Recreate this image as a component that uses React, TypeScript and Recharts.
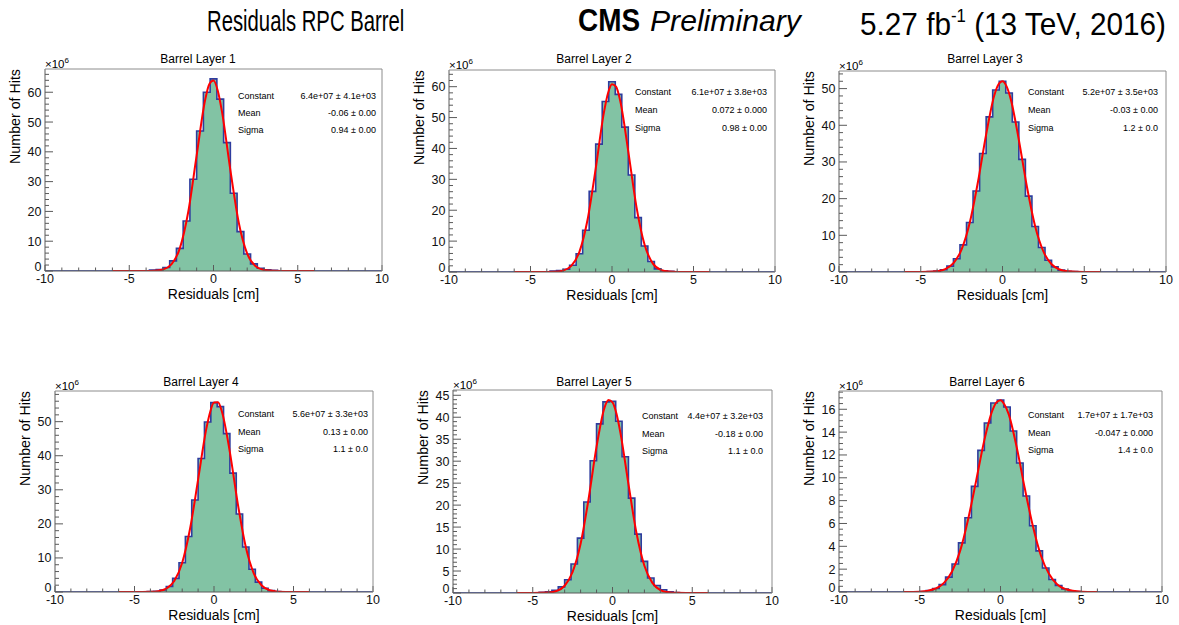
import React from 'react';
import { ComposedChart, Area, Line, XAxis, YAxis } from 'recharts';

const FONT = '"Liberation Sans", Arial, Helvetica, sans-serif';
const W = 1179;
const H = 625;

// ---------- data (values in units of 10^6 hits) ----------
const BIN_CENTERS = [-4.8, -4.4, -4.0, -3.6, -3.2, -2.8, -2.4, -2.0, -1.6, -1.2, -0.8, -0.4, 0.0, 0.4, 0.8, 1.2, 1.6, 2.0, 2.4, 2.8, 3.2, 3.6, 4.0, 4.4, 4.8];
const BIN_WIDTH = 0.4;

const COUNTS_L1 = [0, 0.05, 0.1, 0.3, 0.5, 1.2, 3.4, 7.6, 16.8, 30.8, 47.0, 60.0, 64.5, 57.7, 43.1, 26.1, 13.2, 5.7, 2.4, 0.9, 0.4, 0.2, 0.1, 0.05, 0];
const COUNTS_L2 = [0, 0.05, 0.1, 0.3, 0.5, 0.9, 2.2, 5.9, 13.5, 26.1, 41.4, 55.2, 61.6, 57.5, 46.9, 31.4, 17.6, 8.4, 3.4, 1.0, 0.4, 0.2, 0.1, 0.05, 0];
const COUNTS_L3 = [0.05, 0.1, 0.25, 0.6, 1.6, 3.6, 7.4, 13.5, 22.1, 32.3, 42.3, 49.6, 52.0, 48.8, 40.9, 30.7, 20.7, 12.4, 6.7, 3.2, 1.4, 0.5, 0.2, 0.1, 0.05];
const COUNTS_L4 = [0, 0.05, 0.1, 0.2, 0.6, 1.6, 4.0, 8.6, 16.3, 27.0, 39.2, 49.9, 55.6, 54.4, 46.5, 34.9, 22.9, 13.2, 6.7, 2.9, 1.1, 0.4, 0.15, 0.05, 0];
const COUNTS_L5 = [0.05, 0.15, 0.3, 0.6, 1.4, 3.0, 6.6, 12.5, 20.7, 30.1, 38.5, 43.5, 43.6, 39.1, 31.0, 21.6, 13.4, 7.2, 3.4, 1.7, 0.75, 0.3, 0.12, 0.05, 0];
const COUNTS_L6 = [0.05, 0.13, 0.31, 0.65, 1.3, 2.45, 4.3, 6.5, 9.25, 12.4, 14.8, 16.55, 16.8, 16.2, 14.1, 11.3, 8.4, 5.8, 3.6, 2.1, 1.1, 0.57, 0.26, 0.11, 0.04];

const FIT_X = [-6, -5, -4, -3.5, -3, -2.5, -2, -1.5, -1, -0.5, -0.25, 0, 0.25, 0.5, 1, 1.5, 2, 2.5, 3, 3.5, 4, 5, 6];
const FIT_L1 = [0, 0, 0.01, 0.08, 0.48, 2.2, 7.6, 19.8, 38.8, 57.3, 62.7, 63.9, 60.6, 53.6, 33.9, 16.2, 5.8, 1.6, 0.32, 0.05, 0.01, 0, 0];
const FIT_L2 = [0, 0, 0.02, 0.08, 0.45, 1.96, 6.5, 16.9, 33.5, 51.5, 57.8, 60.8, 60.0, 55.5, 39.0, 21.1, 8.8, 2.8, 0.7, 0.13, 0.02, 0, 0];
const FIT_L3 = [0, 0.01, 0.22, 0.8, 2.4, 6.2, 13.5, 24.6, 37.5, 48.2, 51.1, 52.0, 50.6, 47.2, 36.0, 23.1, 12.4, 5.6, 2.1, 0.69, 0.19, 0.01, 0];
const FIT_L4 = [0, 0, 0.05, 0.24, 0.98, 3.2, 8.6, 18.7, 33.0, 47.5, 52.7, 55.6, 55.7, 52.9, 41.0, 25.8, 13.2, 5.5, 1.9, 0.5, 0.11, 0, 0];
const FIT_L5 = [0, 0, 0.1, 0.46, 1.65, 4.8, 11.2, 21.4, 33.3, 42.2, 43.9, 43.4, 40.8, 36.4, 24.8, 13.7, 6.2, 2.3, 0.67, 0.16, 0.03, 0, 0];
const FIT_L6 = [0, 0.03, 0.31, 0.8, 1.8, 3.6, 6.4, 9.8, 13.3, 15.9, 16.6, 16.8, 16.4, 15.6, 12.7, 9.1, 5.8, 3.2, 1.6, 0.68, 0.26, 0.03, 0];

const LAYER_TITLES = ['Barrel Layer 1', 'Barrel Layer 2', 'Barrel Layer 3', 'Barrel Layer 4', 'Barrel Layer 5', 'Barrel Layer 6'];
const STAT_CONSTANT = ['6.4e+07 \u00b1 4.1e+03', '6.1e+07 \u00b1 3.8e+03', '5.2e+07 \u00b1 3.5e+03', '5.6e+07 \u00b1 3.3e+03', '4.4e+07 \u00b1 3.2e+03', '1.7e+07 \u00b1 1.7e+03'];
const STAT_MEAN = ['-0.06 \u00b1 0.00', '0.072 \u00b1 0.000', '-0.03 \u00b1 0.00', '0.13 \u00b1 0.00', '-0.18 \u00b1 0.00', '-0.047 \u00b1 0.000'];
const STAT_SIGMA = ['0.94 \u00b1 0.00', '0.98 \u00b1 0.00', '1.2 \u00b1 0.0', '1.1 \u00b1 0.0', '1.1 \u00b1 0.0', '1.4 \u00b1 0.0'];

const X_DOMAIN = [-10, 10];
const X_LABELS = [-10, -5, 0, 5, 10];
const X_MINOR_STEP = 1;
const Y_MAX = [67.8, 65.4, 54.8, 59.0, 46.2, 17.6];
const Y_LABEL_STEP = [10, 10, 10, 10, 5, 2];
const Y_MINOR_STEP = [2, 2, 2, 2, 1, 0.5];

const COUNTS = [COUNTS_L1, COUNTS_L2, COUNTS_L3, COUNTS_L4, COUNTS_L5, COUNTS_L6];
const FITS = [FIT_L1, FIT_L2, FIT_L3, FIT_L4, FIT_L5, FIT_L6];

// ---------- layout (page coordinates) ----------
const LAYOUT = [
  { L: 45, R: 382, T: 69, B: 271, titleX: 198, titleY: 63, statX: 238, statR: 376, statY: 99, statDy: 17 },
  { L: 449, R: 775, T: 70, B: 272, titleX: 594, titleY: 63, statX: 635, statR: 767, statY: 94.5, statDy: 18 },
  { L: 839, R: 1166, T: 71, B: 272, titleX: 985, titleY: 63, statX: 1028, statR: 1158, statY: 94.5, statDy: 18 },
  { L: 55, R: 373, T: 391, B: 592, titleX: 201, titleY: 386, statX: 238, statR: 368, statY: 417, statDy: 17.5 },
  { L: 453, R: 772, T: 390, B: 593, titleX: 594, titleY: 386, statX: 642, statR: 763, statY: 419, statDy: 17.5 },
  { L: 839, R: 1162, T: 391, B: 592, titleX: 987, titleY: 386, statX: 1028, statR: 1153, statY: 418, statDy: 17.5 },
];

const Y_AXIS_W = 30;
const X_AXIS_H = 20;
const X_LABEL_OFFSET = 12;
const X_TITLE_OFFSET = 28;

const AXIS_COLOR = '#5a5a5a';
const FRAME_COLOR = '#8c8c8c';
const FILL_COLOR = '#82c3a4';
const HIST_LINE = '#2e3c9e';
const FIT_COLOR = '#ff0000';
const TICK_FONT = 12.5;

const isMultiple = (v: number, step: number) => Math.abs(v / step - Math.round(v / step)) < 1e-6;

function buildTicks(min: number, max: number, step: number) {
  const out: number[] = [];
  const n = Math.floor((max - min) / step + 1e-6);
  for (let i = 0; i <= n; i++) out.push(Number((min + i * step).toFixed(4)));
  return out;
}

function histTable(counts: number[]) {
  const pts: { x: number; h: number }[] = [{ x: X_DOMAIN[0], h: 0 }];
  BIN_CENTERS.forEach((c, i) => pts.push({ x: Number((c - BIN_WIDTH / 2).toFixed(4)), h: counts[i] }));
  pts.push({ x: Number((BIN_CENTERS[BIN_CENTERS.length - 1] + BIN_WIDTH / 2).toFixed(4)), h: 0 });
  pts.push({ x: X_DOMAIN[1], h: 0 });
  return pts;
}

function fitTable(fit: number[]) {
  return FIT_X.map((x, i) => ({ x, f: fit[i] }));
}

const XTick = (props: any) => {
  const { x, y, payload } = props;
  const v = payload.value as number;
  const major = X_LABELS.some((l) => Math.abs(l - v) < 1e-6);
  return (
    <g>
      <line x1={x} x2={x} y1={y} y2={y - (major ? 6 : 3.5)} stroke={AXIS_COLOR} strokeWidth={1} />
      {major && (
        <text x={x} y={y + X_LABEL_OFFSET} textAnchor="middle" fontSize={TICK_FONT} fontFamily={FONT} fill="#111">
          {String(v)}
        </text>
      )}
    </g>
  );
};

const makeYTick = (labelStep: number) => (props: any) => {
  const { x, y, payload } = props;
  const v = payload.value as number;
  const major = isMultiple(v, labelStep);
  const lift = Math.abs(v) < 1e-9 ? 4.5 : 0;
  return (
    <g>
      <line x1={x} x2={x + (major ? 8 : 4)} y1={y} y2={y} stroke={AXIS_COLOR} strokeWidth={1} />
      {major && (
        <text x={x - 3.5} y={y - lift} dy="0.36em" textAnchor="end" fontSize={TICK_FONT} fontFamily={FONT} fill="#111">
          {String(v)}
        </text>
      )}
    </g>
  );
};

const Panel = ({ i }: { i: number }) => {
  const lay = LAYOUT[i];
  const xTicks = buildTicks(X_DOMAIN[0], X_DOMAIN[1], X_MINOR_STEP);
  const yTicks = buildTicks(0, Y_MAX[i], Y_MINOR_STEP[i]);
  return (
    <div style={{ position: 'absolute', left: 0, top: 0, width: W, height: H }}>
      <ComposedChart
        width={W}
        height={H}
        margin={{ top: lay.T, left: lay.L - Y_AXIS_W, right: W - lay.R, bottom: H - lay.B - X_AXIS_H }}
      >
        <Area
          data={histTable(COUNTS[i])}
          dataKey="h"
          type="stepAfter"
          fill={FILL_COLOR}
          fillOpacity={1}
          stroke={HIST_LINE}
          strokeWidth={1.6}
          isAnimationActive={false}
          dot={false}
          activeDot={false}
        />
        <Line
          data={fitTable(FITS[i])}
          dataKey="f"
          type="monotone"
          stroke={FIT_COLOR}
          strokeWidth={2}
          dot={false}
          activeDot={false}
          isAnimationActive={false}
        />
        <XAxis
          type="number"
          dataKey="x"
          domain={X_DOMAIN}
          ticks={xTicks}
          interval={0}
          height={X_AXIS_H}
          tickSize={0}
          tickMargin={0}
          tickLine={false}
          axisLine={{ stroke: AXIS_COLOR }}
          tick={(p: any) => <XTick {...p} />}
          allowDataOverflow
        />
        <YAxis
          type="number"
          domain={[0, Y_MAX[i]]}
          ticks={yTicks}
          interval={0}
          width={Y_AXIS_W}
          tickSize={0}
          tickMargin={0}
          tickLine={false}
          axisLine={{ stroke: AXIS_COLOR }}
          tick={makeYTick(Y_LABEL_STEP[i])}
          allowDataOverflow
        />
      </ComposedChart>
    </div>
  );
};

const PanelText = ({ i }: { i: number }) => {
  const lay = LAYOUT[i];
  const cx = (lay.L + lay.R) / 2;
  return (
    <g fontFamily={FONT} fill="#000">
      <line x1={lay.L} x2={lay.R} y1={lay.T} y2={lay.T} stroke={FRAME_COLOR} strokeWidth={1} />
      <line x1={lay.R} x2={lay.R} y1={lay.T} y2={lay.B} stroke={FRAME_COLOR} strokeWidth={1} />
      <text x={lay.titleX} y={lay.titleY} textAnchor="middle" fontSize={12}>{LAYER_TITLES[i]}</text>
      <text x={lay.L} y={lay.T - 1.5} fontSize={11.5}>
        {'\u00d710'}
        <tspan dy={-5} fontSize={8}>6</tspan>
      </text>
      <g transform={`translate(${cx},${lay.B + X_TITLE_OFFSET}) scale(0.93,1)`}>
        <text x={0} y={0} textAnchor="middle" fontSize={15}>Residuals [cm]</text>
      </g>
      <g transform={`translate(${lay.L - 25.5},${lay.T}) rotate(-90) scale(0.95,1)`}>
        <text x={0} y={0} textAnchor="end" fontSize={15}>Number of Hits</text>
      </g>
      <g fontSize={9}>
        <text x={lay.statX} y={lay.statY}>Constant</text>
        <text x={lay.statX} y={lay.statY + lay.statDy}>Mean</text>
        <text x={lay.statX} y={lay.statY + 2 * lay.statDy}>Sigma</text>
        <text x={lay.statR} y={lay.statY} textAnchor="end">{STAT_CONSTANT[i]}</text>
        <text x={lay.statR} y={lay.statY + lay.statDy} textAnchor="end">{STAT_MEAN[i]}</text>
        <text x={lay.statR} y={lay.statY + 2 * lay.statDy} textAnchor="end">{STAT_SIGMA[i]}</text>
      </g>
    </g>
  );
};

export default function App() {
  const idx = [0, 1, 2, 3, 4, 5];
  return (
    <div style={{ position: 'absolute', left: 0, top: 0, width: W, height: H, background: '#fff', overflow: 'hidden' }}>
      {idx.map((i) => (
        <Panel key={i} i={i} />
      ))}
      <svg width={W} height={H} style={{ position: 'absolute', left: 0, top: 0, pointerEvents: 'none' }}>
        {idx.map((i) => (
          <PanelText key={i} i={i} />
        ))}
        <g fontFamily={FONT} fill="#000">
          <g transform="translate(207,31) scale(0.7,1)">
            <text x={0} y={0} fontSize={29}>Residuals RPC Barrel</text>
          </g>
          <g transform="translate(578,31) scale(0.9,1)">
            <text x={0} y={0} fontSize={31} fontWeight="bold">CMS</text>
          </g>
          <g transform="translate(650,31) scale(1.04,1)">
            <text x={0} y={0} fontSize={29} fontStyle="italic">Preliminary</text>
          </g>
          <g transform="translate(860,35) scale(0.93,1)">
            <text x={0} y={0} fontSize={32}>
              5.27 fb
              <tspan dy={-13} fontSize={18}>-1</tspan>
              <tspan dy={13} fontSize={32}> (13 TeV, 2016)</tspan>
            </text>
          </g>
        </g>
      </svg>
    </div>
  );
}
